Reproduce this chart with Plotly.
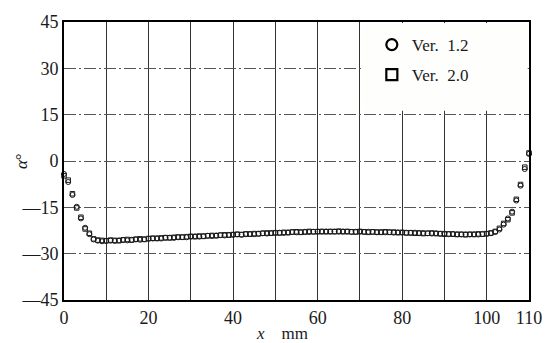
import plotly.graph_objects as go

x_mm = [0, 1, 2, 3, 4, 5, 6, 7, 8, 9, 10, 11, 12, 13, 14, 15, 16, 17, 18, 19, 20,
        21, 22, 23, 24, 25, 26, 27, 28, 29, 30, 31, 32, 33, 34, 35, 36, 37, 38, 39, 40,
        41, 42, 43, 44, 45, 46, 47, 48, 49, 50, 51, 52, 53, 54, 55, 56, 57, 58, 59, 60,
        61, 62, 63, 64, 65, 66, 67, 68, 69, 70, 71, 72, 73, 74, 75, 76, 77, 78, 79, 80,
        81, 82, 83, 84, 85, 86, 87, 88, 89, 90, 91, 92, 93, 94, 95, 96, 97, 98, 99, 100,
        101, 102, 103, 104, 105, 106, 107, 108, 109, 110]

alpha_v12 = [-4.2, -6.8, -11.0, -14.8, -18.6, -21.6, -23.7, -25.4,
             -25.8, -26.0, -25.9, -25.8, -25.9, -25.7, -25.6, -25.7, -25.5, -25.4, -25.5, -25.3, -25.2,
             -25.1, -25.0, -25.1, -24.9, -24.8, -24.9, -24.7, -24.6, -24.7, -24.5, -24.4, -24.5, -24.3, -24.2, -24.3, -24.1, -24.0, -24.1, -23.9, -23.9,
             -23.8, -23.9, -23.7, -23.6, -23.7, -23.5, -23.4, -23.5, -23.3, -23.3, -23.2, -23.3, -23.1, -23.0, -23.1, -23.0, -22.9, -23.0, -22.9, -22.8,
             -22.9, -22.8, -22.9, -22.8, -22.9, -22.8, -22.9, -23.0, -22.9, -22.9, -23.0, -22.9, -23.0, -23.1, -23.0, -23.1, -23.0, -23.2, -23.1, -23.2,
             -23.2, -23.3, -23.2, -23.4, -23.3, -23.4, -23.5, -23.4, -23.6, -23.5, -23.7, -23.6, -23.7, -23.8, -23.7, -23.8, -23.7, -23.8, -23.6, -23.6,
             -23.4, -23.0, -22.2, -20.6, -18.6, -16.4, -12.8, -8.0, -2.6, 2.3]

alpha_v20 = [-4.8, -6.2, -10.6, -15.2, -18.2, -22.0, -23.4, -25.2,
             -25.6, -25.7, -25.8, -25.6, -25.7, -25.8, -25.5, -25.4, -25.6, -25.3, -25.2, -25.4, -25.1,
             -25.0, -25.1, -24.9, -24.8, -24.9, -24.7, -24.6, -24.7, -24.5, -24.4, -24.5, -24.3, -24.4, -24.2, -24.1, -24.2, -24.0, -23.9, -24.0, -23.8,
             -23.7, -23.8, -23.6, -23.7, -23.5, -23.6, -23.4, -23.3, -23.4, -23.2, -23.3, -23.1, -23.2, -23.0, -22.9, -23.1, -23.0, -22.8, -22.9, -22.9,
             -22.8, -22.9, -22.8, -22.9, -22.7, -22.9, -22.8, -22.9, -23.0, -22.8, -22.9, -23.1, -22.9, -23.0, -23.1, -22.9, -23.1, -23.0, -23.2, -23.1,
             -23.3, -23.2, -23.4, -23.3, -23.5, -23.4, -23.3, -23.5, -23.5, -23.7, -23.6, -23.7, -23.8, -23.7, -23.9, -23.7, -23.8, -23.6, -23.7, -23.5,
             -23.3, -22.8, -21.8, -20.2, -19.0, -16.8, -12.4, -7.6, -2.0, 2.6]

series_names = ["Ver.  1.2", "Ver.  2.0"]

x_tickvals = [0, 10, 20, 30, 40, 50, 60, 70, 80, 90, 100, 110]
x_ticktext = ["0", "", "20", "", "40", "", "60", "", "80", "", "100", "110"]
y_tickvals = [-45, -30, -15, 0, 15, 30, 45]
y_ticktext = ["—45", "—30", "—15", "0", "15", "30", "45"]

INK = "#1a1a1a"
FONT = "Liberation Serif"

fig = go.Figure()
fig.add_trace(go.Scatter(x=x_mm, y=alpha_v12, mode="markers", showlegend=False, cliponaxis=False,
                         marker=dict(symbol="circle-open", size=5, color=INK, line=dict(width=1, color=INK))))
fig.add_trace(go.Scatter(x=x_mm, y=alpha_v20, mode="markers", showlegend=False, cliponaxis=False,
                         marker=dict(symbol="square-open", size=4.5, color=INK, line=dict(width=1, color=INK))))
# legend entries
fig.add_trace(go.Scatter(x=[None], y=[None], mode="markers", name=series_names[0], legendgroup="a",
                         marker=dict(symbol="circle-open", size=11, color="#000", line=dict(width=2.2, color="#000"))))
fig.add_trace(go.Scatter(x=[None], y=[None], mode="markers", name=series_names[1], legendgroup="b",
                         marker=dict(symbol="square-open", size=11, color="#000", line=dict(width=2.2, color="#000"))))

fig.update_layout(
    width=554, height=343,
    margin=dict(l=64, r=24, t=14, b=43),
    paper_bgcolor="white", plot_bgcolor="white",
    font=dict(family=FONT, color=INK, size=18),
    legend=dict(x=0.662, y=0.982, xanchor="left", yanchor="top", bgcolor="rgba(0,0,0,0)",
                font=dict(family=FONT, size=17, color=INK), tracegroupgap=5),
    xaxis=dict(range=[0, 110], tickvals=x_tickvals, ticktext=x_ticktext, showgrid=True,
               gridcolor="#333", gridwidth=1, showline=True, mirror=True, linecolor="#000",
               linewidth=2, ticks="", zeroline=False, tickfont=dict(size=18, family=FONT)),
    yaxis=dict(range=[-45, 45], tickvals=y_tickvals, ticktext=y_ticktext, showgrid=True,
               gridcolor="#555", gridwidth=1, griddash="12px,3px,2px,3px", showline=True, mirror=True,
               linecolor="#000", linewidth=2, ticks="", zeroline=False, tickfont=dict(size=18, family=FONT)),
    shapes=[
        dict(type="rect", xref="x", yref="y", x0=70.4, x1=109.7,
             y0=16.3, y1=44.7, fillcolor="rgba(254,254,253,1)",
             line=dict(width=0), layer="between"),
    ],
    annotations=[
        dict(text="<i>x</i>    mm", xref="paper", yref="paper", x=(282 - 64) / 466, y=-(334 - 300) / 286,
             showarrow=False, font=dict(size=17, family=FONT), xanchor="center", yanchor="middle"),
        dict(text="<i>α</i>°", xref="paper", yref="paper", x=-(64 - 21) / 466, y=(300 - 157) / 286,
             showarrow=False, font=dict(size=17, family=FONT), textangle=-90, xanchor="center", yanchor="middle"),
    ],
)

fig.write_html("out.html")
